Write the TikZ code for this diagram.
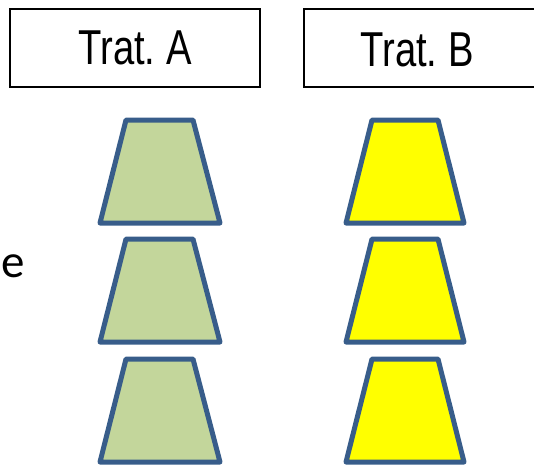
\documentclass[tikz,border=0pt]{standalone}
\usepackage{fontspec}
\setmainfont{Liberation Sans}
\newfontfamily\narrowfont{Liberation Sans}[FakeStretch=0.78]
\newfontfamily\bodyfont{Carlito}
\usetikzlibrary{positioning}

\definecolor{shapeline}{HTML}{385D8A}
\definecolor{trapgreen}{HTML}{C3D69B}
\definecolor{trapyellow}{HTML}{FFFF00}

\begin{document}
\begin{tikzpicture}[
    x=1pt, y=-1pt,
    every node/.style={align=center},
    header/.style={draw=black, line width=1.5pt, inner sep=0pt, font=\narrowfont\fontsize{49}{50}\selectfont},
    pot/.style={draw=shapeline, line width=5pt, line join=round},
    side/.style={inner sep=0pt, font=\bodyfont\fontsize{47}{50}\selectfont}
]
\useasboundingbox (0,0) rectangle (534,467);

% cabeceras de tratamiento
\node[header, minimum width=250pt, minimum height=78pt] (tratA) at (135,48) {Trat.\ A};
\node[header, minimum width=256pt, minimum height=78pt] (tratB) at (432,48) {};
\node[font=\narrowfont\fontsize{49}{50}\selectfont, inner sep=0pt] (labB) at (417,50) {Trat.\ B};

% macetas (trapecios)
\foreach \y in {120,239,359} {
  \draw[pot, fill=trapgreen] (126,\y) -- (193,\y) -- (220,\y+103) -- (100,\y+103) -- cycle;
  \draw[pot, fill=trapyellow] (372,\y) -- (438,\y) -- (464,\y+103) -- (346,\y+103) -- cycle;
}

\node[side, anchor=base west] (lbl) at (1,277) {e};

\end{tikzpicture}
\end{document}
